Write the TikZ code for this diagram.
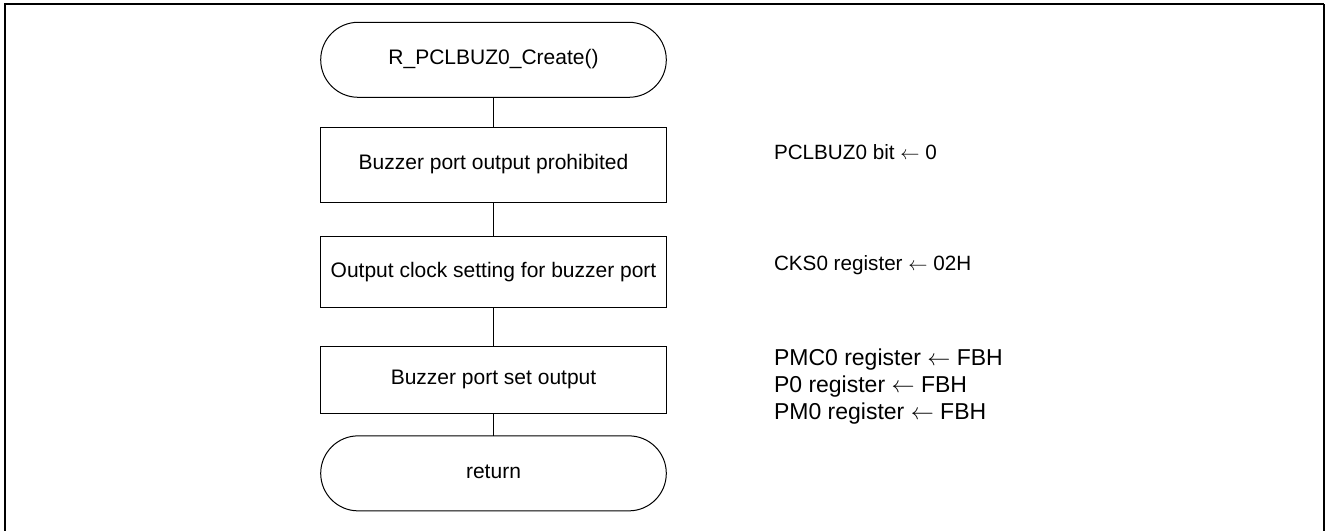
\documentclass[tikz,border=0pt]{standalone}
\usepackage{fontspec}
\setmainfont{Liberation Sans}
\newcommand{\setto}{\ensuremath{\leftarrow}}
\begin{document}
\begin{tikzpicture}[x=0.75pt,y=-0.75pt,
  every node/.style={inner sep=0pt,outer sep=0pt},
  flowbox/.style={draw=black,line width=0.75pt,minimum width=259.2pt,
    font=\fontsize{15.75pt}{18pt}\selectfont,text height=0.72em,text depth=0pt},
  terminal/.style={flowbox,minimum height=56.25pt,rounded corners=28.1pt},
  note/.style={anchor=base west,font=\fontsize{15.5pt}{18pt}\selectfont},
  bignote/.style={anchor=base west,font=\fontsize{17.25pt}{20pt}\selectfont},
  link/.style={draw=black,line width=0.75pt}]
  \useasboundingbox (0,0) rectangle (1326,531);
  \clip (0,0) rectangle (1326,531);
  % outer frame
  \draw[line width=1.5pt] (4.6,545) -- (4.6,4.3) -- (1324,4.3);
  \draw[line width=0.9pt] (1324,4.3) -- (1324,545);

  % flowchart column
  \node[terminal] (start) at (493.5,59.8) {R\_PCLBUZ0\_Create()};
  \node[flowbox,minimum height=56.5pt] (prohibit) at (493.5,165) {Buzzer port output prohibited};
  \node[flowbox,minimum height=53.25pt] (clock) at (493.5,272.2) {Output clock setting for buzzer port};
  \node[flowbox,minimum height=50.5pt] (setout) at (493.5,379.7) {Buzzer port set output};
  \node[terminal] (ret) at (493.5,473.35) {return};

  \draw[link] (start) -- (prohibit);
  \draw[link] (prohibit) -- (clock);
  \draw[link] (clock) -- (setout);
  \draw[link] (setout) -- (ret);

  % register settings
  \node[note] (n1) at (774,159.2) {PCLBUZ0 bit \setto\ 0};
  \node[note] (n2) at (774,270.2) {CKS0 register \setto\ 02H};
  \node[bignote] (n3) at (774,365) {PMC0 register \setto\ FBH};
  \node[bignote] (n4) at (774,392) {P0 register \setto\ FBH};
  \node[bignote] (n5) at (774,419) {PM0 register \setto\ FBH};
\end{tikzpicture}
\end{document}
